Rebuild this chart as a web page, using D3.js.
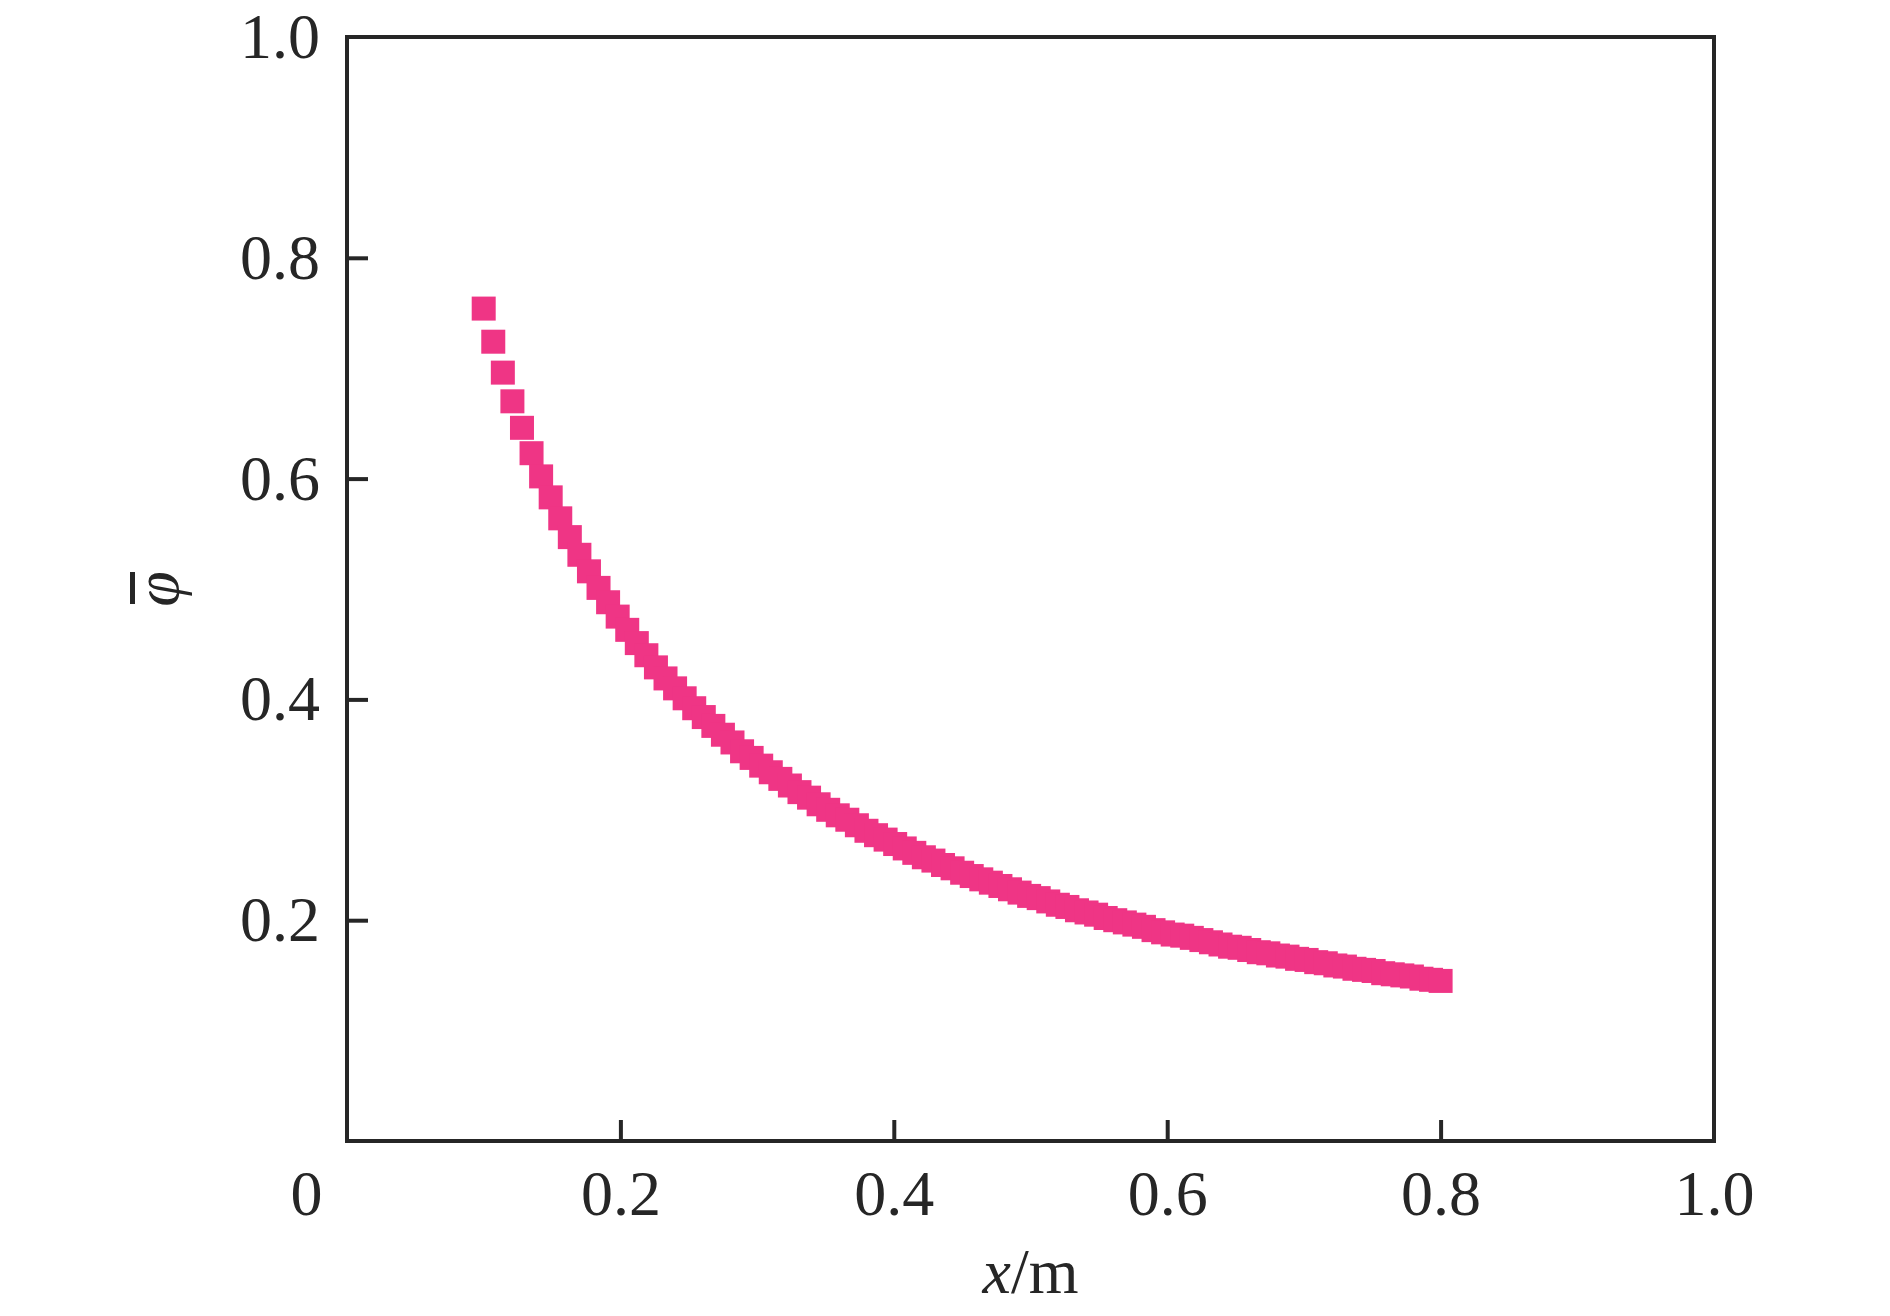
<!DOCTYPE html>
<html>
<head>
<meta charset="utf-8">
<script src="https://cdn.jsdelivr.net/npm/d3@7"></script>
<style>
  html, body { margin: 0; padding: 0; background: #ffffff; }
  svg { display: block; }
</style>
</head>
<body>
<svg id="chart" width="1890" height="1316"></svg>
<script>
// ---- data ----
const xValues = [
  0.100,0.107,0.114,0.121,0.128,0.135,0.142,0.149,0.156,0.163,
  0.170,0.177,0.184,0.191,0.198,0.205,0.212,0.219,0.226,0.233,
  0.240,0.247,0.254,0.261,0.268,0.275,0.282,0.289,0.296,0.303,
  0.310,0.317,0.324,0.331,0.338,0.345,0.352,0.359,0.366,0.373,
  0.380,0.387,0.394,0.401,0.408,0.415,0.422,0.429,0.436,0.443,
  0.450,0.457,0.464,0.471,0.478,0.485,0.492,0.499,0.506,0.513,
  0.520,0.527,0.534,0.541,0.548,0.555,0.562,0.569,0.576,0.583,
  0.590,0.597,0.604,0.611,0.618,0.625,0.632,0.639,0.646,0.653,
  0.660,0.667,0.674,0.681,0.688,0.695,0.702,0.709,0.716,0.723,
  0.730,0.737,0.744,0.751,0.758,0.765,0.772,0.779,0.786,0.793,
  0.800
];
const phiValues = [
  0.754,0.724,0.696,0.670,0.646,0.623,0.602,0.583,0.564,0.547,
  0.531,0.516,0.501,0.488,0.475,0.463,0.451,0.440,0.429,0.419,
  0.410,0.401,0.392,0.384,0.376,0.368,0.361,0.353,0.347,0.340,
  0.334,0.328,0.322,0.316,0.311,0.305,0.300,0.295,0.291,0.286,
  0.281,0.277,0.273,0.269,0.265,0.261,0.257,0.254,0.250,0.247,
  0.243,0.240,0.237,0.234,0.231,0.228,0.225,0.222,0.220,0.217,
  0.214,0.212,0.209,0.207,0.205,0.202,0.200,0.198,0.196,0.194,
  0.191,0.189,0.187,0.186,0.184,0.182,0.180,0.178,0.176,0.175,
  0.173,0.171,0.170,0.168,0.167,0.165,0.164,0.162,0.161,0.159,
  0.158,0.156,0.155,0.154,0.152,0.151,0.150,0.149,0.147,0.146,
  0.145
];
const xTickLabels = [0, 0.2, 0.4, 0.6, 0.8, 1.0];
const yTickLabels = [0.2, 0.4, 0.6, 0.8, 1.0];
const innerTicks = [0.2, 0.4, 0.6, 0.8];

// ---- drawing ----
const svg = d3.select("#chart");
const L = 347, R = 1714, T = 37, B = 1141;
const x = d3.scaleLinear().domain([0, 1]).range([L, R]);
const y = d3.scaleLinear().domain([0, 1]).range([B, T]);

const FONT = "'Liberation Serif', 'Times New Roman', serif";
const INK = "#262626";
const PINK = "#ef3585";

// data markers
const S = 24;
svg.append("g").selectAll("rect")
  .data(xValues.map((v, i) => [v, phiValues[i]]))
  .join("rect")
  .attr("x", d => x(d[0]) - S / 2)
  .attr("y", d => y(d[1]) - S / 2)
  .attr("width", S)
  .attr("height", S)
  .attr("fill", PINK);

// x axis
const gx = svg.append("g")
  .attr("transform", `translate(0,${B})`)
  .call(d3.axisBottom(x)
    .tickValues(xTickLabels)
    .tickFormat(d => d === 0 ? "0" : d3.format(".1f")(d))
    .tickSizeInner(-21)
    .tickSizeOuter(0)
    .tickPadding(29));
gx.select(".domain").remove();
gx.selectAll(".tick line")
  .attr("stroke", INK).attr("stroke-width", 4)
  .attr("display", d => innerTicks.includes(d) ? null : "none");
gx.selectAll(".tick text")
  .attr("font-family", FONT).attr("font-size", 64).attr("fill", INK)
  .attr("dx", d => d === 0 ? -41 : 0);

// y axis
const gy = svg.append("g")
  .attr("transform", `translate(${L},0)`)
  .call(d3.axisLeft(y)
    .tickValues(yTickLabels)
    .tickFormat(d3.format(".1f"))
    .tickSizeInner(-21)
    .tickSizeOuter(0)
    .tickPadding(27));
gy.select(".domain").remove();
gy.selectAll(".tick line")
  .attr("stroke", INK).attr("stroke-width", 4)
  .attr("display", d => innerTicks.includes(d) ? null : "none");
gy.selectAll(".tick text")
  .attr("font-family", FONT).attr("font-size", 64).attr("fill", INK);

// frame
svg.append("rect")
  .attr("x", L).attr("y", T)
  .attr("width", R - L).attr("height", B - T)
  .attr("fill", "none").attr("stroke", INK).attr("stroke-width", 4);

// x axis title
const xt = svg.append("text")
  .attr("x", (L + R) / 2).attr("y", 1293)
  .attr("text-anchor", "middle")
  .attr("font-family", FONT).attr("font-size", 64).attr("fill", INK);
xt.append("tspan").attr("font-style", "italic").text("x");
xt.append("tspan").text("/m");

// y axis title (phi with bar, rotated)
const yt = svg.append("g").attr("transform", "translate(178,589) rotate(-90)");
yt.append("text")
  .attr("x", 0).attr("y", 0)
  .attr("text-anchor", "middle")
  .attr("font-family", FONT).attr("font-size", 64).attr("font-style", "italic")
  .attr("fill", INK)
  .text("\u03C6");
yt.append("rect")
  .attr("x", -15).attr("y", -48).attr("width", 32).attr("height", 5)
  .attr("fill", INK);
</script>
</body>
</html>
